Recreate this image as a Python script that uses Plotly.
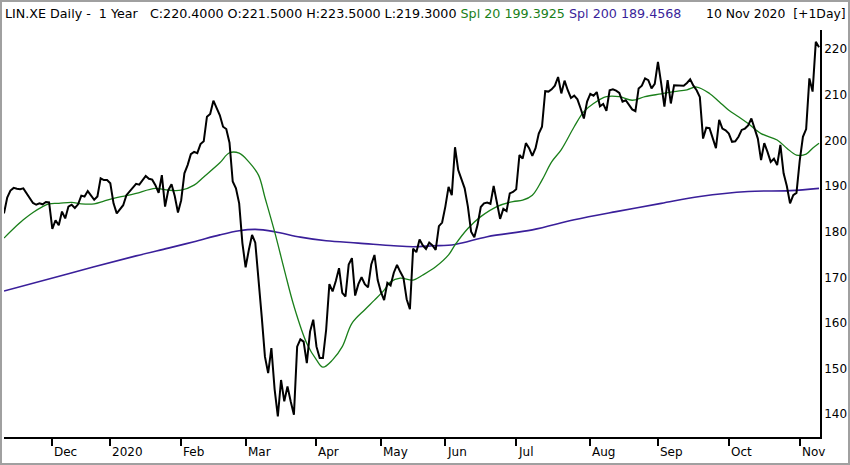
import pandas as pd
import plotly.graph_objects as go

# Xetra trading days, 11 Nov 2019 .. 10 Nov 2020
holidays = ["2019-12-24", "2019-12-25", "2019-12-26", "2019-12-31",
            "2020-01-01", "2020-04-10", "2020-04-13", "2020-05-01"]
dates = [d.strftime("%Y-%m-%d") for d in pd.bdate_range("2019-11-11", "2020-11-10")
         if d.strftime("%Y-%m-%d") not in holidays]

# daily close
close = [
    184.0, 187.5, 189.0, 189.6, 189.4, 189.3, 189.5, 188.5, 187.3, 186.3,
    185.9, 186.2, 186.0, 186.5, 186.4, 180.6, 182.5, 181.4, 184.4, 182.9,
    185.5, 185.9, 185.2, 186.0, 187.9, 187.7, 188.9, 187.9, 187.0, 187.7,
    191.7, 191.3, 191.3, 190.6, 186.2, 184.0, 184.8, 185.8, 188.0, 188.8,
    189.7, 190.5, 190.3, 191.2, 192.2, 191.6, 191.4, 190.2, 188.5, 192.4,
    185.5, 189.1, 190.4, 187.8, 184.2, 186.9, 192.8, 194.6, 197.0, 197.5,
    197.2, 199.2, 199.8, 205.2, 205.8, 208.7, 207.0, 205.5, 203.0, 202.5,
    199.5, 191.0, 189.5, 186.2, 177.5, 172.2, 176.0, 179.3, 177.6, 170.1,
    161.4, 152.6, 149.0, 154.5, 145.5, 139.5, 147.5, 142.8, 146.1, 142.8,
    139.9, 154.8, 156.4, 155.9, 151.2, 158.1, 160.7, 154.8, 152.3, 152.3,
    158.5, 168.5, 166.9, 169.2, 172.0, 166.6, 165.8, 172.8, 174.2, 166.0,
    168.5, 170.0, 168.5, 167.8, 172.8, 174.9, 169.4, 166.8, 165.0, 168.8,
    168.2, 171.0, 172.7, 171.2, 169.9, 165.2, 163.0, 176.3, 175.5, 178.3,
    177.0, 176.2, 177.6, 177.0, 176.0, 181.2, 182.0, 185.5, 189.8, 188.0,
    198.5, 193.5, 191.5, 189.5, 185.5, 180.0, 178.8, 181.5, 185.4, 186.2,
    186.4, 186.1, 190.0, 186.0, 182.8, 185.0, 184.5, 188.4, 188.7, 189.3,
    196.8, 196.0, 199.4, 198.3, 196.6, 198.3, 201.5, 203.0, 210.8, 210.7,
    211.2, 212.0, 213.9, 210.3, 213.1, 211.0, 209.3, 209.8, 209.0, 207.0,
    204.8, 208.5, 210.2, 209.8, 210.6, 207.5, 208.0, 206.5, 211.0, 211.2,
    210.9, 210.4, 208.5, 208.8, 207.8, 206.8, 206.4, 211.4, 212.0, 213.6,
    213.2, 211.4, 212.4, 217.2, 212.5, 207.4, 213.2, 208.1, 212.1, 212.1,
    212.0, 212.0, 212.6, 213.4, 212.0, 211.0, 209.5, 200.4, 202.8, 202.7,
    200.5, 198.3, 204.5, 202.6, 202.2, 201.5, 199.7, 199.8, 200.8, 202.3,
    202.6, 203.3, 204.8, 202.6, 200.4, 195.7, 199.4, 197.5, 195.3, 196.0,
    194.6, 199.0, 192.8, 190.0, 186.2, 188.0, 188.5, 195.5, 200.8, 202.5,
    213.6, 210.7, 221.6, 220.4,
]

# Spl 20 line, sampled at trading-day numbers
spl20_day = [0, 3, 6, 9, 12, 14, 17, 21, 24, 28, 31, 34, 38, 41, 47, 51, 55, 59, 62,
             67, 70, 73, 76, 79, 81, 84, 87, 90, 94, 97, 99, 102, 105, 108, 112, 115,
             118, 120, 123, 127, 130, 134, 138, 140, 144, 148, 153, 158, 161, 164,
             167, 170, 173, 177, 180, 183, 187, 191, 195, 199, 204, 208, 212, 215,
             219, 222, 225, 228, 231, 235, 240, 243, 246, 249, 251, 253]
spl20 = [178.6, 180.7, 182.6, 184.2, 185.5, 186.1, 186.2, 186.4, 186.1, 186.1, 186.7,
         187.3, 187.9, 188.4, 189.5, 189.1, 189.1, 190.2, 192.0, 195.1, 197.3, 197.2,
         195.3, 192.4, 187.5, 180.0, 171.7, 163.7, 155.5, 151.9, 150.3, 151.9, 154.8,
         159.9, 162.9, 165.0, 167.2, 169.0, 169.8, 169.4, 170.5, 172.3, 174.9, 177.1,
         180.7, 183.3, 185.5, 186.6, 186.9, 188.0, 191.3, 195.3, 198.0, 203.0, 206.3,
         208.1, 209.6, 209.6, 208.8, 209.6, 210.2, 210.7, 211.1, 211.7, 210.3, 208.5,
         206.6, 205.2, 203.7, 201.5, 200.1, 198.3, 196.8, 197.0, 198.3, 199.4]

# Spl 200 line
spl200_day = [0, 20, 41, 51, 59, 67, 73, 78, 84, 92, 100, 110, 121, 127, 133, 140,
              150, 164, 177, 190, 204, 216, 231, 244, 253]
spl200 = [167.0, 170.8, 174.7, 176.4, 177.8, 179.3, 180.2, 180.5, 180.0, 178.8, 178.0,
          177.5, 176.9, 176.7, 176.9, 177.2, 178.9, 180.4, 182.6, 184.4, 186.2, 187.7,
          188.8, 189.0, 189.5]

month_labels = ["Dec", "2020", "Feb", "Mar", "Apr", "May", "Jun", "Jul",
                "Aug", "Sep", "Oct", "Nov"]
y_ticks = [140, 150, 160, 170, 180, 190, 200, 210, 220]

# first trading day of each month from Dec 2019
month_starts = [d for i, d in enumerate(dates) if i > 0 and d[5:7] != dates[i - 1][5:7]]

FONT = "DejaVu Sans"
GREEN = "#1a7f1a"
PURPLE = "#3a1f9a"

fig = go.Figure()
fig.add_trace(go.Scatter(x=dates[:len(close)], y=close, mode="lines",
                         line=dict(color="black", width=2)))
fig.add_trace(go.Scatter(x=[dates[i] for i in spl200_day], y=spl200, mode="lines",
                         line=dict(color=PURPLE, width=1.6, shape="spline"), hoverinfo="skip"))
fig.add_trace(go.Scatter(x=[dates[i] for i in spl20_day], y=spl20, mode="lines",
                         line=dict(color=GREEN, width=1.3, shape="spline"), hoverinfo="skip"))
# price on top of the averages
fig.data = (fig.data[1], fig.data[2], fig.data[0])

W, H = 850, 465
ml, mr, mt, mb = 4, 30, 30, 28
pw, ph = W - ml - mr, H - mt - mb


def px_x(x):
    return (x - ml) / pw


def px_y(y):
    return 1 - (y - mt) / ph


for d, lab in zip(month_starts, month_labels):
    fig.add_annotation(x=d, xref="x", y=0, yref="paper", yshift=-15, text=lab,
                       showarrow=False, xanchor="left", yanchor="middle",
                       font=dict(family=FONT, size=12, color="black"))

nb = "\u00a0"
header = ("LIN.XE Daily -" + nb * 2 + "1 Year" + nb * 3 +
          "C:220.4000 O:221.5000 H:223.5000 L:219.3000 "
          f"<span style='color:{GREEN}'>Spl 20 199.3925</span> "
          f"<span style='color:{PURPLE}'>Spl 200 189.4568</span>")
fig.add_annotation(x=px_x(3), xref="paper", y=px_y(14), yref="paper", text=header,
                   showarrow=False, xanchor="left", yanchor="middle",
                   font=dict(family=FONT, size=12.7, color="black"))
fig.add_annotation(x=px_x(848), xref="paper", y=px_y(14), yref="paper",
                   text="10 Nov 2020" + nb * 2 + "[+1Day]",
                   showarrow=False, xanchor="right", yanchor="middle",
                   font=dict(family=FONT, size=12.4, color="black"))

# outer grey frame
fig.add_shape(type="rect", xref="paper", yref="paper",
              x0=px_x(1), x1=px_x(849), y0=px_y(464), y1=px_y(1),
              line=dict(color="#a0a0a0", width=2), layer="below")

fig.update_layout(
    width=W, height=H,
    margin=dict(l=ml, r=mr, t=mt, b=mb),
    paper_bgcolor="white", plot_bgcolor="white",
    showlegend=False,
    xaxis=dict(type="category", categoryorder="array", categoryarray=dates,
               range=[0, 253.3], tickvals=month_starts,
               showticklabels=False, ticks="outside", ticklen=7, tickwidth=1.5,
               tickcolor="black", showline=True, linecolor="black", linewidth=1.5,
               showgrid=False, zeroline=False, fixedrange=True),
    yaxis=dict(side="right", range=[135.0, 224.2], tickvals=y_ticks,
               ticks="", showline=True, linecolor="black", linewidth=1.5,
               showgrid=False, zeroline=False, ticklabelstandoff=0,
               tickfont=dict(family=FONT, size=12, color="black")),
)

# the page body has a default margin; drop it so the chart sits at the window's corner
fig.write_html("out.html", config={"displayModeBar": False},
               post_script="document.body.style.margin='0';")
